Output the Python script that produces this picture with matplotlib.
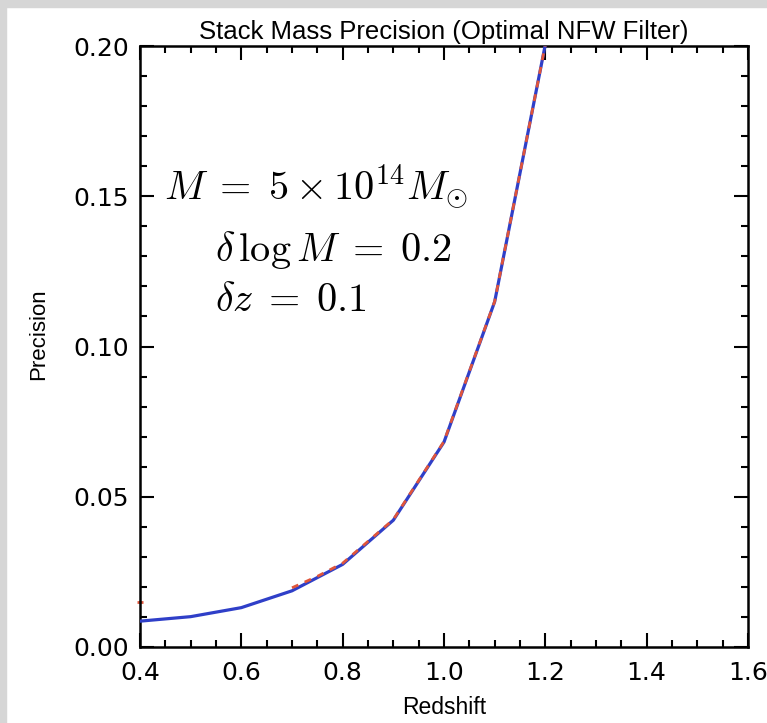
import matplotlib
matplotlib.use("Agg")
import matplotlib.pyplot as plt
from matplotlib.patches import Rectangle
from matplotlib.ticker import MultipleLocator

# values
redshift = [0.4, 0.5, 0.6, 0.7, 0.8, 0.9, 1.0, 1.1, 1.2]
precision_blue = [0.0086, 0.0101, 0.0131, 0.0187, 0.0275, 0.0422, 0.0682, 0.1149, 0.2005]
redshift_red = [0.7, 0.75, 0.8, 0.9, 1.0, 1.1, 1.2]
precision_red = [0.0197, 0.0235, 0.0279, 0.0424, 0.0684, 0.1150, 0.2005]
stray_x = [0.4]
stray_y = [0.0151]

xticks = [0.4, 0.6, 0.8, 1.0, 1.2, 1.4, 1.6]
yticks = [0.00, 0.05, 0.10, 0.15, 0.20]

plt.rcParams["mathtext.fontset"] = "cm"
plt.rcParams["font.family"] = "DejaVu Sans"

fig = plt.figure(figsize=(7.67, 7.23), dpi=100)
W, H = 767, 723
ax = fig.add_axes([140 / W, 1 - 647 / H, 608 / W, 601 / H])

# grey photo frame at the top and left edges
fig.patches.append(Rectangle((0, 1 - 7 / H), 1, 7 / H, transform=fig.transFigure,
                             color="#d6d6d6", zorder=0))
fig.patches.append(Rectangle((0, 0), 6 / W, 1, transform=fig.transFigure,
                             color="#d6d6d6", zorder=0))

ax.plot(redshift, precision_blue, color="#2f3fc8", lw=2.3, zorder=3)
ax.plot(redshift_red, precision_red, color="#e0553a", lw=2.0, ls=(0, (2.5, 2.5)), zorder=4)
ax.plot(stray_x, stray_y, marker="_", color="#e0553a", ms=5, mew=2, ls="none", clip_on=False)

ax.set_xlim(0.4, 1.6)
ax.set_ylim(0.0, 0.2)
ax.set_xticks(xticks)
ax.set_xticklabels([f"{v:.1f}" for v in xticks])
ax.set_yticks(yticks)
ax.set_yticklabels([f"{v:.2f}" for v in yticks])
ax.xaxis.set_minor_locator(MultipleLocator(0.05))
ax.yaxis.set_minor_locator(MultipleLocator(0.01))
ax.tick_params(which="both", direction="in", top=True, right=True, width=1.5,
               labelsize=18)
ax.tick_params(axis="y", pad=8)
ax.tick_params(axis="x", pad=10)
ax.tick_params(which="major", length=10)
ax.tick_params(which="minor", length=5)
for s in ax.spines.values():
    s.set_linewidth(1.8)

ax.set_title("Stack Mass Precision (Optimal NFW Filter)", fontsize=18.5, pad=5,
             family="Liberation Sans")
ax.set_xlabel("Redshift", fontsize=16.5, labelpad=8, family="Liberation Sans")
ax.set_ylabel("Precision", fontsize=16, family="Liberation Sans")
ax.yaxis.set_label_coords(-0.15, 0.52)

ax.text(0.040, 0.765, r"$M\;=\;5\times10^{14}M_{\odot}$", transform=ax.transAxes,
        fontsize=29, va="center", ha="left")
ax.text(0.123, 0.66, r"$\delta\,\log M\;=\;0.2$", transform=ax.transAxes,
        fontsize=29, va="center", ha="left")
ax.text(0.123, 0.578, r"$\delta z\;=\;0.1$", transform=ax.transAxes,
        fontsize=29, va="center", ha="left")

fig.savefig("out.png", dpi=100)
